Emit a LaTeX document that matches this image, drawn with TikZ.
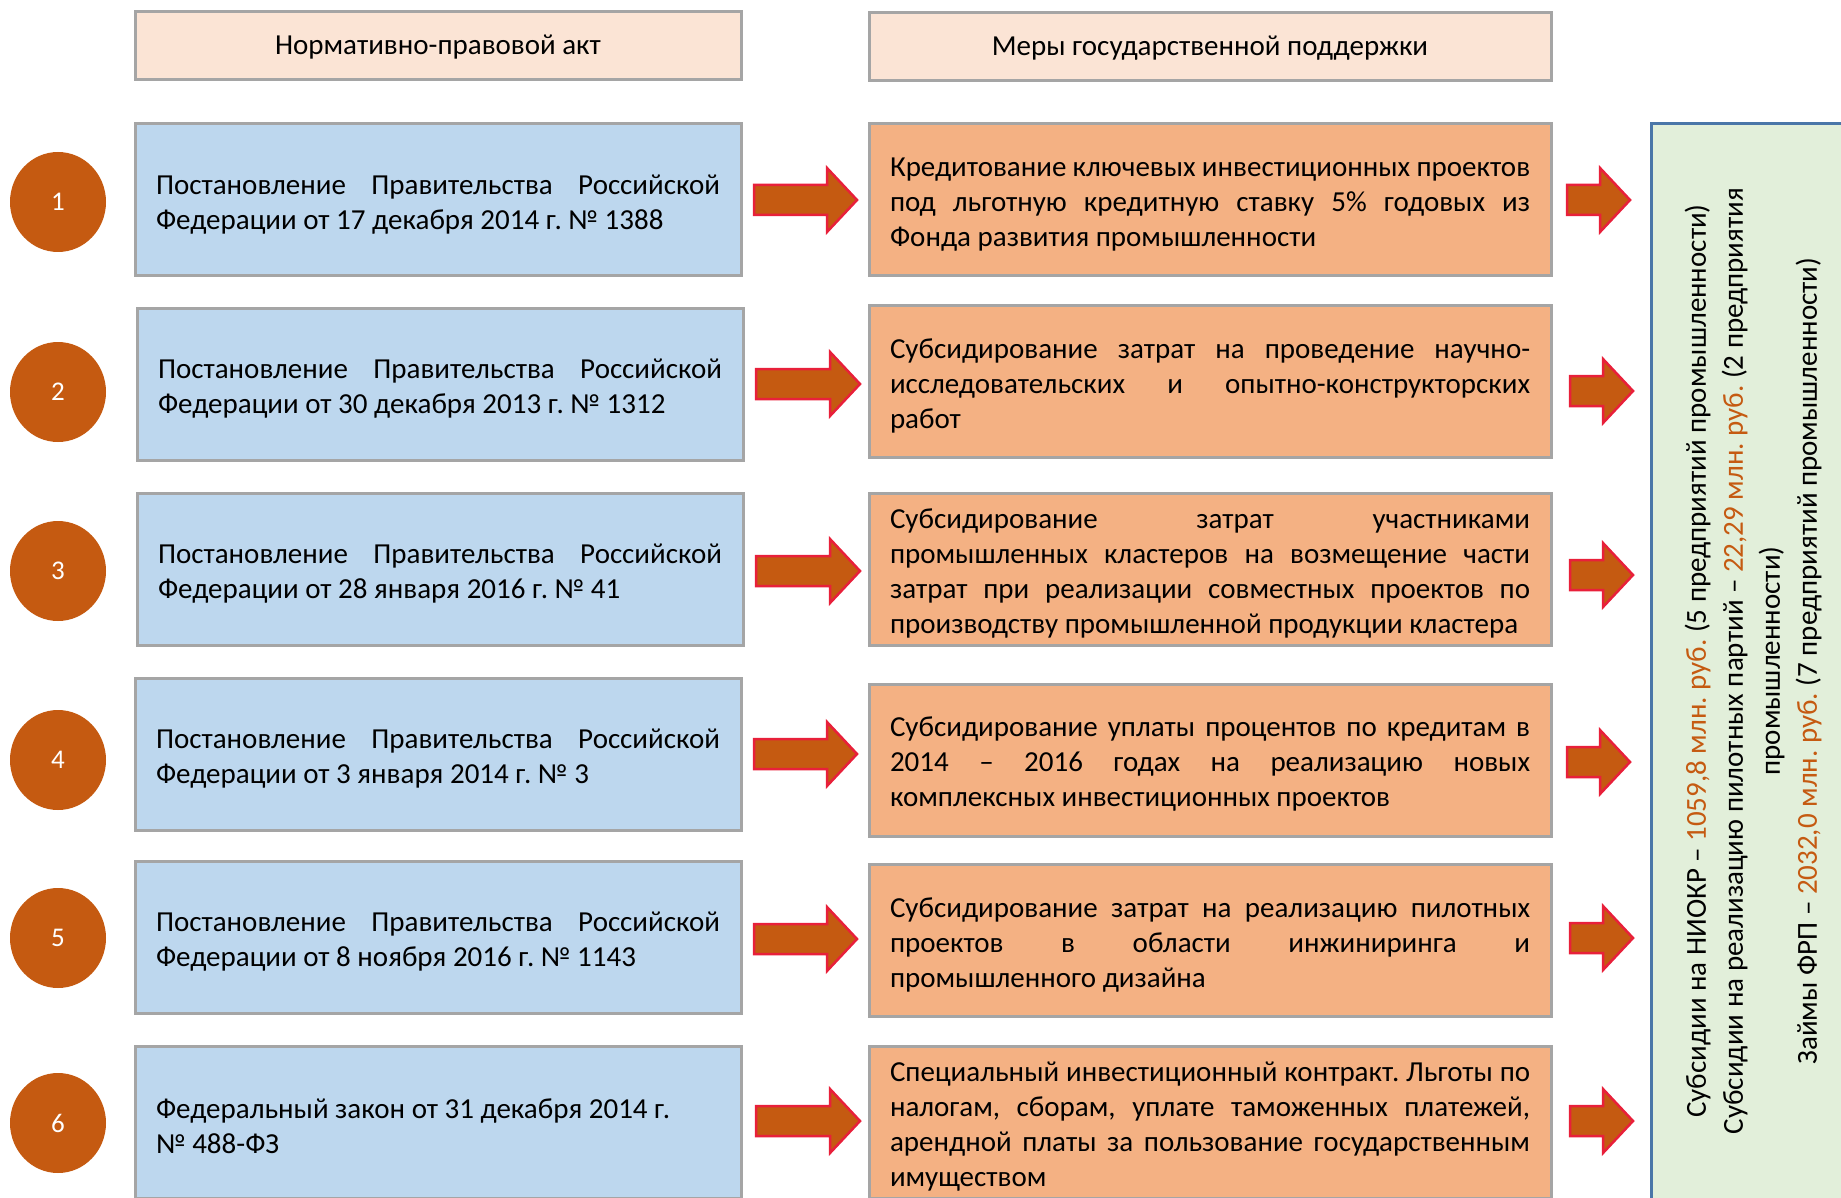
\documentclass[tikz,border=0pt]{standalone}
\usepackage{fontspec}
\setmainfont{Carlito}
\frenchspacing
\usetikzlibrary{shapes.geometric}
\definecolor{boxgray}{HTML}{A5A5A5}
\definecolor{hdrfill}{HTML}{FBE4D5}
\definecolor{bluefill}{HTML}{BDD7EE}
\definecolor{orfill}{HTML}{F4B183}
\definecolor{darkor}{HTML}{C55A11}
\definecolor{arrred}{HTML}{E8203A}
\definecolor{grfill}{HTML}{E2EFDA}
\definecolor{grborder}{HTML}{4A76A8}
\newcommand\blockarr[4]{%
  \draw[blockarrow] (#1,#3-15) -- (#2-#4,#3-15) -- (#2-#4,#3-32) -- (#2,#3)
    -- (#2-#4,#3+32) -- (#2-#4,#3+15) -- (#1,#3+15) -- cycle;}
\newcommand\nodetail{\par\vspace{-9pt}}
\begin{document}
\begin{tikzpicture}[x=1pt,y=-1pt,
  txt/.style={font=\fontsize{29}{35}\selectfont},
  hdrbox/.style={draw=boxgray, line width=3pt, fill=hdrfill, minimum height=68pt, inner sep=0pt, txt, text depth=2pt},
  actbox/.style={draw=boxgray, line width=3pt, fill=bluefill, text width=564pt, inner xsep=21pt, inner ysep=0pt, minimum height=152pt, align=justify, txt, execute at end node=\nodetail},
  measbox/.style={draw=boxgray, line width=3pt, fill=orfill, text width=640pt, inner xsep=21pt, inner ysep=0pt, minimum height=152pt, align=justify, txt, execute at end node=\nodetail},
  numcirc/.style={ellipse, fill=darkor, minimum width=96pt, minimum height=100pt, inner sep=0pt, text=white, font=\fontsize{27}{30}\selectfont},
  blockarrow/.style={fill=darkor, draw=arrred, line width=2.5pt, line join=miter},
  resbox/.style={draw=grborder, line width=3pt, fill=grfill, minimum width=215pt, minimum height=1090pt, inner sep=0pt},
  restext/.style={rotate=90, align=center, font=\fontsize{29}{37}\selectfont}
]
\useasboundingbox (0,0) rectangle (1841,1198);
\clip (0,0) rectangle (1841,1198);

% headers
\node[hdrbox, minimum width=606pt] (h1) at (438,46) {Нормативно-правовой акт};
\node[hdrbox, minimum width=682pt] (h2) at (1210,46.5) {Меры государственной поддержки};

% circles
\node[numcirc] (c1) at (58,202) {1};
\node[numcirc] (c2) at (58,392) {2};
\node[numcirc] (c3) at (58,571) {3};
\node[numcirc] (c4) at (58,760) {4};
\node[numcirc] (c5) at (58,938) {5};
\node[numcirc] (c6) at (58,1123) {6};

% acts
\node[actbox] (a1) at (438,200) {Постановление Правительства Российской\linebreak Федерации от 17 декабря 2014 г. № 1388};
\node[actbox] (a2) at (440,384.5) {Постановление Правительства Российской\linebreak Федерации от 30 декабря 2013 г. № 1312};
\node[actbox] (a3) at (440,569) {Постановление Правительства Российской\linebreak Федерации от 28 января 2016 г. № 41};
\node[actbox] (a4) at (438,754) {Постановление Правительства Российской\linebreak Федерации от 3 января 2014 г. № 3};
\node[actbox] (a5) at (438,937.5) {Постановление Правительства Российской\linebreak Федерации от 8 ноября 2016 г. № 1143};
\node[actbox] (a6) at (438,1122) {Федеральный закон от 31 декабря 2014 г.\\ № 488-ФЗ};

% measures
\node[measbox] (m1) at (1210,200) {Кредитование ключевых инвестиционных проектов\linebreak под льготную кредитную ставку 5\% годовых из\linebreak Фонда развития промышленности};
\node[measbox] (m2) at (1210,381.5) {Субсидирование затрат на проведение научно-\linebreak исследовательских и опытно-конструкторских\linebreak работ};
\node[measbox] (m3) at (1210,569) {Субсидирование затрат участниками\linebreak промышленных кластеров на возмещение части\linebreak затрат при реализации совместных проектов по\linebreak производству промышленной продукции кластера};
\node[measbox] (m4) at (1210,760) {Субсидирование уплаты процентов по кредитам в\linebreak 2014 – 2016 годах на реализацию новых\linebreak комплексных инвестиционных проектов};
\node[measbox] (m5) at (1210,940.5) {Субсидирование затрат на реализацию пилотных\linebreak проектов в области инжиниринга и\linebreak промышленного дизайна};
\node[measbox] (m6) at (1210,1122) {Специальный инвестиционный контракт. Льготы по\linebreak налогам, сборам, уплате таможенных платежей,\linebreak арендной платы за пользование государственным\linebreak имуществом};

% result box
\node[resbox] (g) at (1758.5,669) {};
\node[restext] (gt) at (1753,661) {Субсидии на НИОКР – \textcolor{darkor}{1059,8 млн. руб.} (5 предприятий промышленности)\\
Субсидии на реализацию пилотных партий – \textcolor{darkor}{22,29 млн. руб.} (2 предприятия\\
промышленности)\\
Займы ФРП – \textcolor{darkor}{2032,0 млн. руб.} (7 предприятий промышленности)};

% arrows act -> measure
\blockarr{754}{857}{200}{30}
\blockarr{756}{860}{384}{30}
\blockarr{756}{860}{571}{30}
\blockarr{754}{857}{754}{30}
\blockarr{754}{857}{939}{30}
\blockarr{756}{860}{1121}{30}
% arrows measure -> result
\blockarr{1567}{1630}{200}{30}
\blockarr{1570}{1633}{391}{30}
\blockarr{1570}{1633}{575}{30}
\blockarr{1567}{1630}{762}{30}
\blockarr{1570}{1633}{938}{30}
\blockarr{1570}{1633}{1121}{30}
\end{tikzpicture}
\end{document}
